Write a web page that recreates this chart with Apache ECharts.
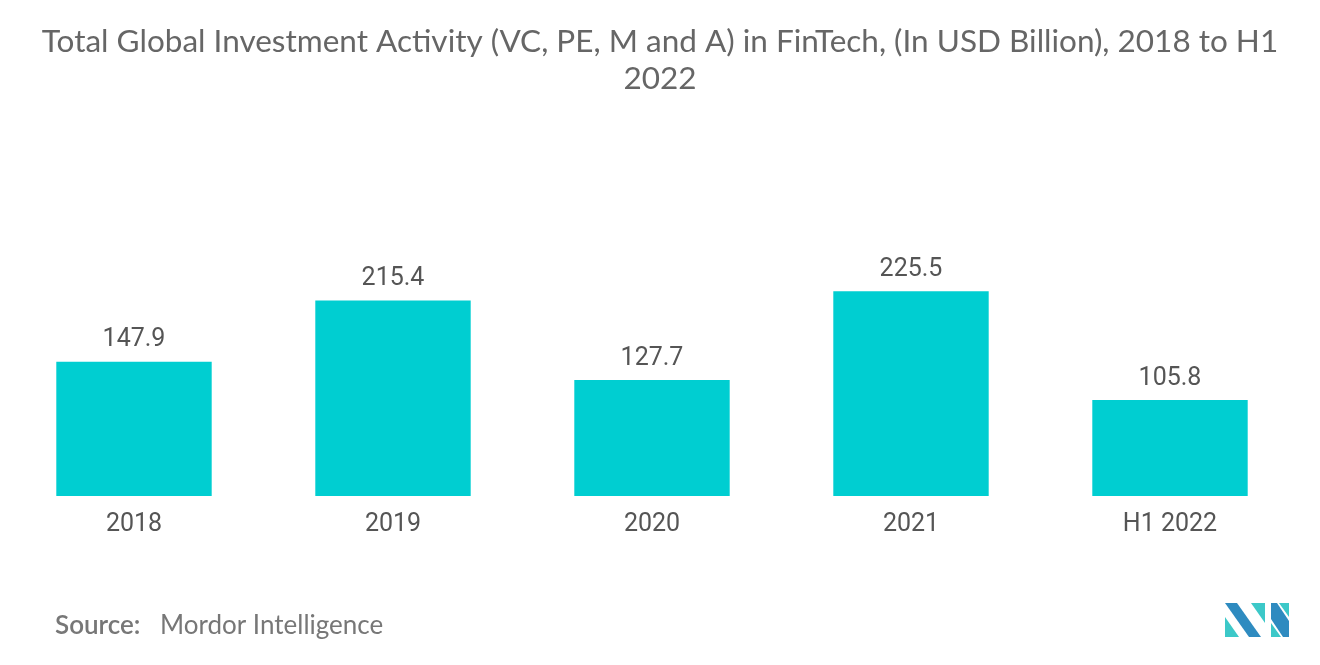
<!DOCTYPE html>
<html><head><meta charset="utf-8">
<script src="https://cdn.jsdelivr.net/npm/echarts@6/dist/echarts.min.js"></script>
<style>html,body{margin:0;padding:0;background:#fff}#c{width:1320px;height:665px}</style>
</head><body><div id="c"></div>
<script>
const categories = ['2018', '2019', '2020', '2021', 'H1 2022'];
const values = [147.9, 215.4, 127.7, 225.5, 105.8];
const titleText = 'Total Global Investment Activity (VC, PE, M and A) in FinTech, (In USD Billion), 2018 to H1\n2022';

const chart = echarts.init(document.getElementById('c'));
chart.setOption({
  backgroundColor: '#fff',
  animation: false,
  title: {
    text: titleText,
    left: 'center',
    top: 18,
    textStyle: { fontFamily: 'Lato', fontWeight: 'normal', fontSize: 31.5, color: '#666', lineHeight: 37 }
  },
  grid: { left: 4.5, right: 20.5, top: 269, bottom: 169 },
  xAxis: {
    type: 'category',
    data: categories,
    axisLine: { show: false },
    axisTick: { show: false },
    axisLabel: { fontFamily: 'Roboto', fontSize: 25, color: '#555', margin: 16 }
  },
  yAxis: { type: 'value', min: 0, max: 250, show: false, splitLine: { show: false } },
  series: [{
    type: 'bar',
    data: values,
    barWidth: '60%',
    itemStyle: { color: '#00CED1' },
    label: { show: true, position: 'top', distance: 9, fontFamily: 'Roboto', fontSize: 25, color: '#555' }
  }],
  graphic: [
    { type: 'text', left: 55, top: 613, style: { text: 'Source:', font: '600 26px Lato', fill: '#777' } },
    { type: 'text', left: 160, top: 613, style: { text: 'Mordor Intelligence', font: '26px Lato', fill: '#777' } },
    { type: 'group', left: 1225, top: 603, children: [
      { type: 'polygon', shape: { points: [[0,0],[12,0],[36,34],[24,34]] }, style: { fill: '#2E8BC0' } },
      { type: 'polygon', shape: { points: [[0,14],[0,34],[14,34]] }, style: { fill: '#3CC8C8' } },
      { type: 'polygon', shape: { points: [[26,0],[40,0],[40,20]] }, style: { fill: '#3CC8C8' } },
      { type: 'polygon', shape: { points: [[46,0],[52,0],[64,18],[64,34],[58,34],[46,16]] }, style: { fill: '#2E8BC0' } },
      { type: 'polygon', shape: { points: [[54,0],[64,0],[64,14]] }, style: { fill: '#3CC8C8' } },
      { type: 'polygon', shape: { points: [[46,20],[56,34],[46,34]] }, style: { fill: '#3CC8C8' } }
    ]}
  ]
});
</script></body></html>
